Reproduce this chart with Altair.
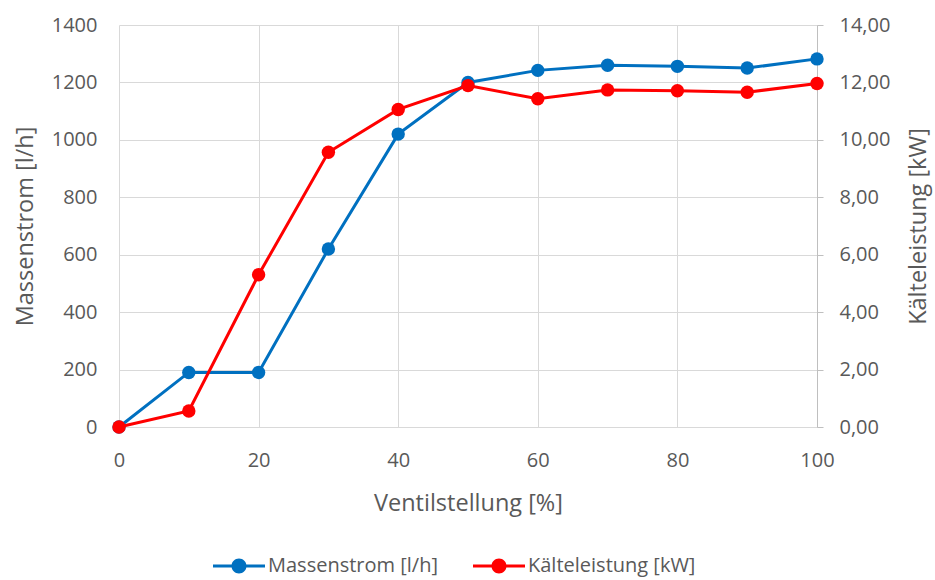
import altair as alt
import pandas as pd

ventil = [0, 10, 20, 30, 40, 50, 60, 70, 80, 90, 100]
massenstrom = [0, 190, 190, 620, 1020, 1200, 1242, 1260, 1256, 1250, 1282]
kaelte = [0.0, 0.56, 5.30, 9.57, 11.06, 11.89, 11.43, 11.74, 11.71, 11.66, 11.96]
series_names = ["Massenstrom [l/h]", "Kälteleistung [kW]"]
colors = ["#0070C0", "#FF0000"]
x_ticks = [0, 20, 40, 60, 80, 100]
left_ticks = [0, 200, 400, 600, 800, 1000, 1200, 1400]
right_ticks = [0, 2, 4, 6, 8, 10, 12, 14]

df_m = pd.DataFrame({"x": ventil, "y": massenstrom, "s": series_names[0]})
df_k = pd.DataFrame({"x": ventil, "y": kaelte, "s": series_names[1]})

FONT = "Open Sans"
GREY = "#595959"

legend_path = ("M-2.6,-0.15L2.6,-0.15L2.6,0.15L-2.6,0.15Z "
               "M0.75,0A0.75,0.75,0,1,1,-0.75,0A0.75,0.75,0,1,1,0.75,0Z")

color = alt.Color(
    "s:N",
    scale=alt.Scale(domain=series_names, range=colors),
    legend=alt.Legend(
        title=None, orient="none", direction="horizontal",
        legendX=110, legendY=531, padding=0,
        symbolType=legend_path, symbolSize=400, symbolStrokeWidth=0,
        labelOffset=19, columnPadding=35, labelLimit=400,
        labelFont=FONT, labelFontSize=20, labelColor=GREY,
    ),
)

x_enc = alt.X(
    "x:Q",
    scale=alt.Scale(domain=[0, 100], nice=False),
    axis=alt.Axis(
        values=x_ticks, title="Ventilstellung [%]", grid=True, gridColor="#d9d9d9",
        domain=True, domainColor="#d9d9d9", ticks=False, labelPadding=23,
        labelFlush=False, titlePadding=21,
    ),
)

y_left = alt.Y(
    "y:Q",
    scale=alt.Scale(domain=[0, 1400], nice=False),
    axis=alt.Axis(
        values=left_ticks, title="Massenstrom [l/h]", orient="left", format="d",
        grid=True, gridColor="#d9d9d9", domain=False, ticks=False,
        labelPadding=22, labelFlush=False, titlePadding=14,
    ),
)

y_right = alt.Y(
    "y:Q",
    scale=alt.Scale(domain=[0, 14], nice=False),
    axis=alt.Axis(
        values=right_ticks, title="Kälteleistung [kW]", orient="right",
        labelExpr="replace(format(datum.value, '.2f'), '.', ',')",
        grid=False, domain=True, domainColor="#bfbfbf", ticks=True,
        tickColor="#bfbfbf", tickSize=6, labelPadding=16, labelFlush=False,
        titleAngle=270, titleBaseline="top", titlePadding=17,
    ),
)

line_m = alt.Chart(df_m).mark_line(strokeWidth=3, color=colors[0]).encode(x=x_enc, y=y_left)
pts_m = alt.Chart(df_m).mark_point(filled=True, size=180, opacity=1).encode(x=x_enc, y=y_left, color=color)
line_k = alt.Chart(df_k).mark_line(strokeWidth=3, color=colors[1]).encode(x=x_enc, y=y_right)
pts_k = alt.Chart(df_k).mark_point(filled=True, size=180, opacity=1).encode(x=x_enc, y=y_right, color=color)

layer_m = alt.layer(line_m, pts_m)
layer_k = alt.layer(line_k, pts_k)

chart = (
    alt.layer(layer_m, layer_k)
    .resolve_scale(y="independent")
    .properties(
        width=698, height=402,
        autosize=alt.AutoSizeParams(type="none"),
        padding={"left": 119, "top": 25, "right": 118, "bottom": 153},
        background="white",
    )
    .configure_view(stroke=None)
    .configure_axis(
        labelFont=FONT, titleFont=FONT, labelFontSize=20, titleFontSize=23.5,
        labelColor=GREY, titleColor=GREY, titleFontWeight="normal",
    )
)

chart.save("out.html", embed_options={"renderer": "svg", "actions": False})
